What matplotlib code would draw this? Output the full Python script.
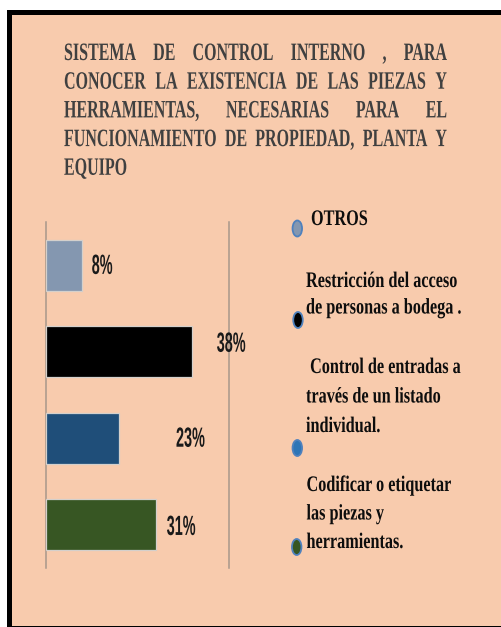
import matplotlib
matplotlib.use('Agg')
import matplotlib.pyplot as plt
import matplotlib.patheffects as pe
from matplotlib.transforms import Affine2D
from matplotlib.patches import Rectangle, Ellipse

# ---- data -------------------------------------------------------------------
categories = ['OTROS',
              'Restricción del acceso\nde personas a bodega .',
              ' Control de entradas a\ntravés de un listado\nindividual.',
              'Codificar o etiquetar\nlas piezas y\nherramientas.']
bar_lengths = [1, 4, 2, 3]            # bar scale as drawn in the original
pct_labels = ['8%', '38%', '23%', '31%']
bar_colors = ['#8497B0', '#000000', '#1F4E79', '#375623']
marker_colors = ['#8497B0', '#000000', '#2E75B6', '#375623']
title_lines = ['SISTEMA DE CONTROL INTERNO , PARA',
               'CONOCER LA EXISTENCIA DE LAS PIEZAS Y',
               'HERRAMIENTAS, NECESARIAS PARA EL',
               'FUNCIONAMIENTO DE PROPIEDAD, PLANTA Y',
               'EQUIPO']

W, H = 501, 627
PEACH = '#F8CBAD'


class Squeeze(pe.AbstractPathEffect):
    """narrow the glyphs horizontally, keeping the left edge of each line"""
    def __init__(self, sx):
        super().__init__()
        self.sx = sx

    def draw_path(self, renderer, gc, tpath, affine, rgbFace=None):
        x0 = affine.get_matrix()[0, 2]
        aff = affine + Affine2D().translate(-x0, 0).scale(self.sx, 1).translate(x0, 0)
        renderer.draw_path(gc, tpath, aff, rgbFace)


fig = plt.figure(figsize=(W / 100, H / 100), dpi=100)
fig.patch.set_facecolor('white')
px = Affine2D().scale(1 / W, -1 / H).translate(0, 1) + fig.transFigure

# frame
fig.patches.append(Rectangle((9.5, 11.5), 520, 616, transform=px, facecolor=PEACH,
                             edgecolor='black', linewidth=3.6, zorder=-5))

# ---- bars -------------------------------------------------------------------
ax = fig.add_axes([45.7 / W, 1 - 568 / H, 183.3 / W, 346 / H])
ax.patch.set_alpha(0)
pos = list(range(len(categories)))
ax.barh(pos, bar_lengths, height=0.59, color=bar_colors, edgecolor='#D4D0CC', linewidth=0.9, zorder=3)
ax.set_xlim(0, 5)
ax.set_ylim(3.5, -0.5)
for s in ['top', 'right', 'bottom']:
    ax.spines[s].set_visible(False)
ax.spines['left'].set_color('#A8978A')
ax.spines['left'].set_linewidth(1.1)
ax.axvline(5, color='#A8978A', linewidth=1.1, clip_on=False)
ax.set_xticks([])
ax.set_yticks([])

label_dx = [0.255, 0.665, 1.554, 0.30]
label_dy = [0.10, 0.0, 0.098, 0.118]
for p, v, lab, dx, dy in zip(pos, bar_lengths, pct_labels, label_dx, label_dy):
    ax.text(v + dx, p + dy, lab, ha='left', va='baseline', fontsize=20, weight='bold',
            family='Liberation Sans', color='#1A1A1A', path_effects=[Squeeze(0.52)])

# ---- title (justified) --------------------------------------------------------
renderer = fig.canvas.get_renderer()
tkw = dict(transform=px, fontsize=18, family='Liberation Serif', weight='bold',
           color='#404040', va='baseline', ha='left')
t_sx = 0.64
x_left, x_right = 64, 447
for i, line in enumerate(title_lines):
    y = 60 + i * 28.7
    if i == len(title_lines) - 1:
        fig.text(x_left, y, line, path_effects=[Squeeze(t_sx)], **tkw)
        continue
    words = line.split()
    objs = [fig.text(0, y, w, path_effects=[Squeeze(t_sx)], **tkw) for w in words]
    widths = [o.get_window_extent(renderer).width * t_sx for o in objs]
    gap = (x_right - x_left - sum(widths)) / (len(words) - 1)
    x = x_left
    for o, w in zip(objs, widths):
        o.set_x(x)
        x += w + gap

# ---- legend -------------------------------------------------------------------
leg_text_xy = [(311, 225), (306, 287), (306, 373), (306.5, 491)]
leg_step = [28.5, 26.5, 29.5, 28.5]
leg_marker_xy = [(297.3, 228.5), (298, 320), (297.3, 448), (296.7, 547)]
for cat, col, (tx, ty), step, (mx, my) in zip(categories, marker_colors, leg_text_xy,
                                              leg_step, leg_marker_xy):
    for j, ln in enumerate(cat.split('\n')):
        fig.text(tx, ty + j * step, ln, transform=px, fontsize=16, family='Liberation Serif',
                 weight='bold', color='#0D0D0D', va='baseline', ha='left',
                 path_effects=[Squeeze(0.73)])
    fig.patches.append(Ellipse((mx, my), 9.5, 16, transform=px, facecolor=col,
                               edgecolor='#4F81BD', linewidth=1.3, zorder=2))

fig.savefig('out.png', dpi=100, facecolor=fig.get_facecolor())
